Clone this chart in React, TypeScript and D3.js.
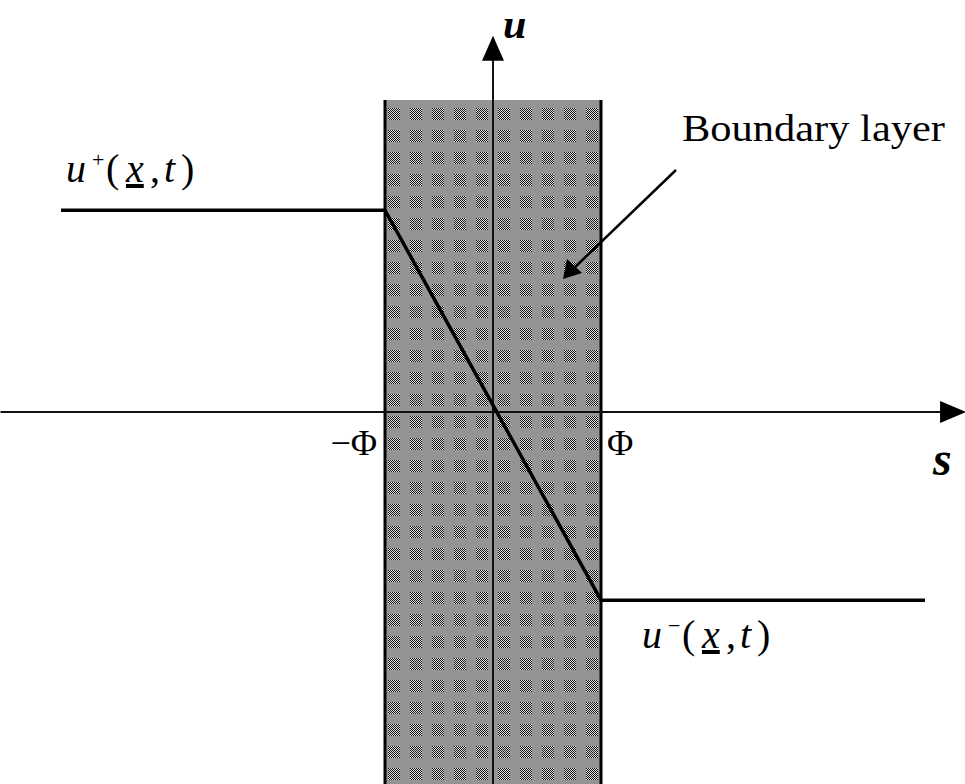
import React from 'react';
import * as d3 from 'd3';

// corner points of the saturated control law u(s)
const sPoints = [-4, -1, 1, 4];
const uPoints = [1.035, 1.035, -0.965, -0.965];

// boundary layer band, in s and u units
const layerS = [-1, 1];
const layerU = [1.6, -2];

// axis extents
const sAxis = [-4.56, 4.38];
const uAxis = [1.93, -1.95];

const tickLabels = ['\u2212\u03A6', '\u03A6'];

const W = 965;
const H = 784;
const serif = '"Liberation Serif", "Times New Roman", serif';

// u^{+/-}(x, t) label, glyphs placed one by one like the typeset original
const ControlLabel = ({ left, base, sign }: { left: number; base: number; sign: string }) => (
  <text y={base} fontSize={40}>
    <tspan x={left} fontStyle="italic">u</tspan>
    <tspan x={left + 26} y={base - 15} fontSize={22}>{sign}</tspan>
    <tspan x={left + 40} y={base}>(</tspan>
    <tspan x={left + 60} fontStyle="italic" textDecoration="underline">x</tspan>
    <tspan x={left + 84}>,</tspan>
    <tspan x={left + 98} fontStyle="italic">t</tspan>
    <tspan x={left + 115}>)</tspan>
  </text>
);

const App = () => {
  const x = d3.scaleLinear().domain([-1, 1]).range([385, 601]);
  const y = d3.scaleLinear().domain([-1, 1]).range([607, 217]);

  const pts = sPoints.map((s, i) => [x(s), y(uPoints[i])] as [number, number]);
  const path = d3.line()(pts);

  const bx0 = x(layerS[0]);
  const bx1 = x(layerS[1]);
  const by0 = y(layerU[0]);
  const by1 = y(layerU[1]);

  const x0 = x(0);
  const y0 = y(0);
  const axR = x(sAxis[1]);
  const axT = y(uAxis[0]);

  return (
    <svg width={W} height={H} style={{ position: 'absolute', left: 0, top: 0, background: '#fff' }}>
      <defs>
        <pattern id="checker" width={2} height={2} patternUnits="userSpaceOnUse">
          <rect width={2} height={2} fill="#e0e0e0" />
          <rect width={1} height={1} fill="#111" />
          <rect x={1} y={1} width={1} height={1} fill="#111" />
        </pattern>
        <pattern id="cells" x={bx0 + 3} y={by0 + 8} width={22} height={22} patternUnits="userSpaceOnUse">
          <rect width={22} height={22} fill="#949494" />
          <rect width={12} height={12} fill="url(#checker)" />
        </pattern>
      </defs>

      {/* boundary layer band */}
      <rect x={bx0} y={by0} width={bx1 - bx0} height={by1 - by0} fill="url(#cells)" />
      <line x1={bx0} x2={bx0} y1={by0} y2={by1} stroke="#000" strokeWidth={3} />
      <line x1={bx1} x2={bx1} y1={by0} y2={by1} stroke="#000" strokeWidth={3} />

      {/* axes */}
      <line x1={x(sAxis[0])} x2={axR - 20} y1={y0} y2={y0} stroke="#111" strokeWidth={2} />
      <path d={`M${axR},${y0} L${axR - 26},${y0 - 11} L${axR - 26},${y0 + 11} Z`} fill="#000" />
      <line x1={x0} x2={x0} y1={axT + 20} y2={y(uAxis[1])} stroke="#111" strokeWidth={2} />
      <path d={`M${x0},${axT} L${x0 - 11},${axT + 25} L${x0 + 11},${axT + 25} Z`} fill="#000" />

      {/* control law */}
      <path d={path ?? ''} fill="none" stroke="#000" strokeWidth={3.5} strokeLinejoin="miter" />

      {/* annotation arrow */}
      <line x1={676} y1={170} x2={572} y2={270} stroke="#000" strokeWidth={2.5} />
      <path d="M563,279 L567,259 L582,273 Z" fill="#000" />

      <g fontFamily={serif} fill="#000">
        <text x={x0 + 10} y={38} fontSize={42} fontStyle="italic" fontWeight="bold">u</text>
        <text x={933} y={475} fontSize={48} fontStyle="italic" fontWeight="bold">s</text>
        <text x={bx0 - 8} y={455} fontSize={36} textAnchor="end">{tickLabels[0]}</text>
        <text x={bx1 + 6} y={455} fontSize={36}>{tickLabels[1]}</text>
        <text x={682} y={141} fontSize={38} textLength={263} lengthAdjust="spacingAndGlyphs">Boundary layer</text>

        <ControlLabel left={66} base={182} sign="+" />
        <ControlLabel left={642} base={648} sign={'\u2212'} />
      </g>
    </svg>
  );
};

export default App;
